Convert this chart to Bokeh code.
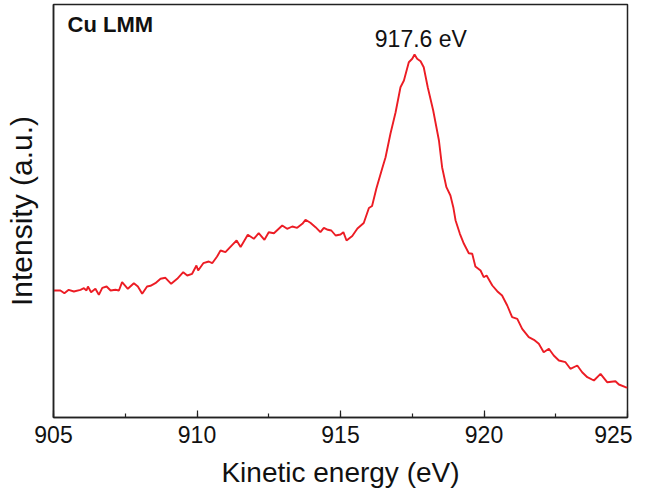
from bokeh.plotting import figure
from bokeh.models import Range1d, SingleIntervalTicker, FixedTicker, Label
from bokeh.embed import file_html
from bokeh.resources import INLINE

# Kinetic energy (eV)
energy = [905.00, 905.24, 905.38, 905.53, 905.71, 905.94, 906.06, 906.15, 906.20, 906.31,
          906.46, 906.58, 906.70, 906.85, 906.99, 907.16, 907.28, 907.39, 907.59, 907.80,
          907.94, 908.09, 908.26, 908.38, 908.55, 908.73, 908.90, 909.10, 909.31, 909.52,
          909.66, 909.83, 909.98, 910.04, 910.22, 910.41, 910.53, 910.70, 910.82, 910.99,
          911.23, 911.38, 911.52, 911.77, 911.98, 912.15, 912.35, 912.50, 912.68, 912.97,
          913.14, 913.32, 913.49, 913.67, 913.78, 913.95, 914.13, 914.30, 914.42, 914.56,
          914.68, 914.83, 915.00, 915.10, 915.21, 915.41, 915.59, 915.81, 915.99, 916.10,
          916.25, 916.45, 916.57, 916.74, 916.92, 917.09, 917.21, 917.38, 917.50, 917.58,
          917.67, 917.79, 917.90, 918.04, 918.23, 918.43, 918.54, 918.69, 918.83, 918.93,
          919.01, 919.16, 919.30, 919.47, 919.59, 919.70, 919.88, 919.99, 920.09, 920.29,
          920.46, 920.63, 920.81, 920.98, 921.16, 921.33, 921.56, 921.74, 921.91, 922.08,
          922.26, 922.43, 922.61, 922.84, 923.01, 923.25, 923.42, 923.60, 923.83, 924.06,
          924.29, 924.58, 924.70, 924.93, 925.00]

# Intensity (a.u.)
intensity = [127.0, 127.0, 124.3, 127.7, 126.0, 127.7, 129.3, 127.0, 131.0, 125.3,
             128.7, 122.7, 129.7, 131.0, 127.0, 127.7, 127.0, 135.3, 128.7, 134.3,
             131.0, 123.7, 131.0, 131.7, 134.3, 138.7, 139.7, 133.7, 138.7, 145.3,
             142.0, 143.7, 152.0, 147.0, 154.3, 156.0, 154.3, 161.0, 167.0, 165.3,
             172.7, 177.0, 170.5, 182.7, 178.7, 184.3, 177.7, 185.3, 184.3, 192.0,
             188.7, 191.0, 189.7, 193.7, 197.7, 194.7, 190.3, 185.3, 189.7, 187.7,
             187.0, 182.0, 183.0, 185.3, 177.0, 181.5, 189.0, 194.5, 209.5, 211.5,
             229.0, 248.7, 260.3, 283.7, 305.3, 330.3, 337.0, 355.3, 358.7, 363.0,
             358.7, 356.3, 350.3, 330.3, 307.0, 277.0, 250.3, 230.3, 222.0, 210.3,
             197.0, 183.7, 173.7, 164.3, 163.7, 151.0, 147.0, 140.3, 142.0, 132.0,
             126.3, 122.0, 112.0, 100.3, 98.7, 88.7, 80.3, 77.7, 73.7, 65.3,
             68.7, 62.0, 57.0, 55.3, 48.7, 52.0, 45.3, 40.3, 37.0, 43.7,
             35.3, 36.3, 33.0, 30.3, 30.0]

x_limits = [905, 925]
y_limits = [0, 413]
panel_title = "Cu LMM"
peak_energy = 917.6
peak_label = "917.6 eV"
x_label = "Kinetic energy (eV)"
y_label = "Intensity (a.u.)"

FONT = "Liberation Sans"

p = figure(frame_width=574, frame_height=413,
           output_backend="svg", toolbar_location=None,
           x_range=Range1d(*x_limits), y_range=Range1d(*y_limits),
           min_border_left=53, min_border_right=5,
           min_border_top=4, min_border_bottom=72)

p.xgrid.visible = False
p.ygrid.visible = False
p.outline_line_color = "#222222"
p.outline_line_width = 1.5
p.outline_line_alpha = 1.0
p.background_fill_color = "white"
p.border_fill_color = "white"

xa = p.xaxis[0]
xa.ticker = SingleIntervalTicker(interval=5, num_minor_ticks=2)
xa.major_tick_in = 7
xa.major_tick_out = 0
xa.minor_tick_in = 4
xa.minor_tick_out = 0
xa.major_tick_line_color = "#222222"
xa.minor_tick_line_color = "#222222"
xa.major_tick_line_width = 1.2
xa.minor_tick_line_width = 1.2
xa.axis_line_color = "#222222"
xa.axis_line_width = 1.5
xa.major_label_text_font = FONT
xa.major_label_text_font_size = "23px"
xa.major_label_text_color = "#111111"
xa.major_label_standoff = 8
xa.axis_label = x_label
xa.axis_label_text_font = FONT
xa.axis_label_text_font_size = "28px"
xa.axis_label_text_font_style = "normal"
xa.axis_label_text_color = "#111111"
xa.axis_label_standoff = 11

ya = p.yaxis[0]
ya.ticker = FixedTicker(ticks=[])
ya.axis_line_color = "#222222"
ya.axis_line_width = 1.5
ya.major_tick_line_color = None
ya.minor_tick_line_color = None
ya.axis_label = y_label
ya.axis_label_text_font = FONT
ya.axis_label_text_font_size = "30px"
ya.axis_label_text_font_style = "normal"
ya.axis_label_text_color = "#111111"
ya.axis_label_standoff = 16

p.line(energy, intensity, line_color="#ec1c24", line_width=1.9)

p.add_layout(Label(x=905.49, y=393, text=panel_title, text_font=FONT,
                   text_font_size="22px", text_font_style="bold",
                   text_color="#111111", text_baseline="alphabetic", text_align="left"))
p.add_layout(Label(x=peak_energy + 0.2, y=379, text=peak_label, text_font=FONT,
                   text_font_size="23px", text_color="#111111",
                   text_baseline="alphabetic", text_align="center"))

open("out.html", "w").write(file_html(p, INLINE))
